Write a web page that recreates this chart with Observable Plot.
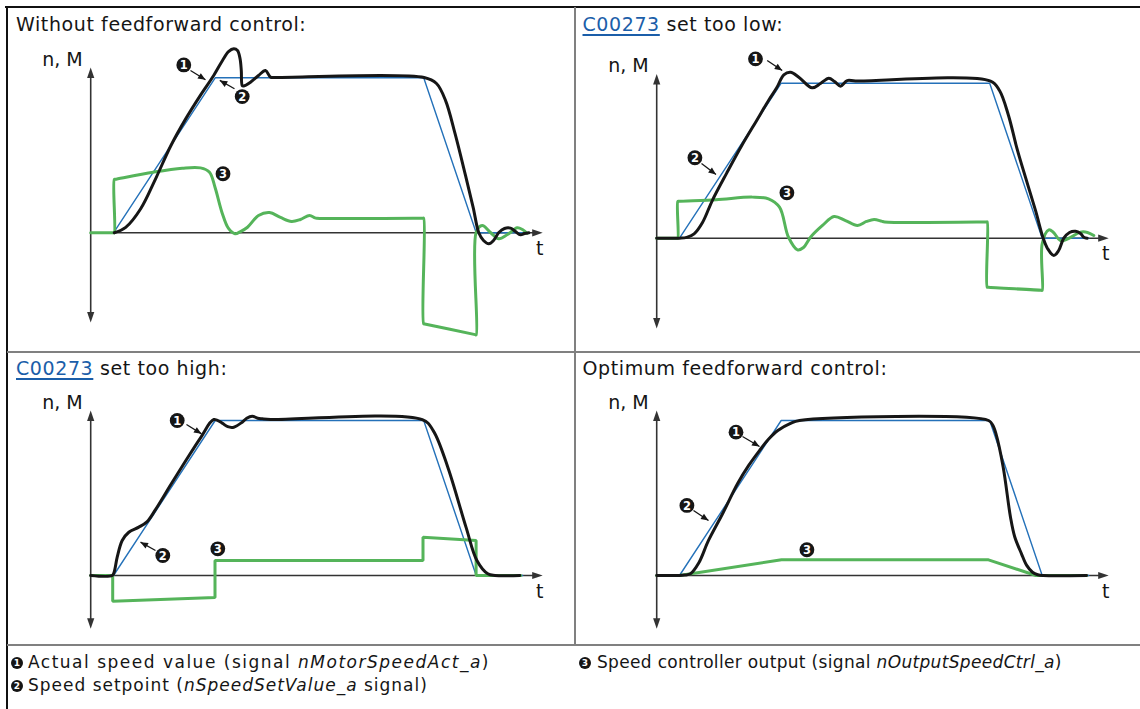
<!DOCTYPE html>
<html>
<head>
<meta charset="utf-8">
<script src="https://cdn.jsdelivr.net/npm/d3@7"></script>
<script src="https://cdn.jsdelivr.net/npm/@observablehq/plot@0.6"></script>
<style>
  html, body { margin: 0; padding: 0; background: #fff; }
  #page { position: relative; width: 1140px; height: 709px; overflow: hidden;
          font-family: "DejaVu Sans", sans-serif; color: #151515; }
  .rule { position: absolute; }
  .title { position: absolute; font-size: 19px; letter-spacing: 0.6px; line-height: 19px; white-space: nowrap; }
  .title a { color: #1b5ea9; text-decoration: underline; text-decoration-thickness: 1.6px; text-underline-offset: 3px; }
  .panel { position: absolute; }
  .panel svg { overflow: visible; }
  .legend { position: absolute; font-size: 17px; letter-spacing: 0px; line-height: 17px; white-space: nowrap; }
  .mk { position: absolute; width: 12px; height: 12px; border-radius: 50%; background: #151515; color: #fff;
        font: bold 9px/12px "DejaVu Sans", sans-serif; text-align: center; }
</style>
</head>
<body>
<div id="page"></div>
<script>
// ---------------- data (time in ms-like units, value in % of setpoint) ----------------
const titleLinks = ["", "C00273", "C00273", ""];
const titleTexts = ["Without feedforward control:", " set too low:", " set too high:", "Optimum feedforward control:"];
const axisLabelY = "n, M";
const axisLabelX = "t";

const setpoint = [[0,0],[22.8,0],[124.5,100],[333,100],[385.5,0],[432,0]];

const actual1 = [[23.6,0],[35,3.5],[50,15.5],[65,35],[80,56],[95,73.5],[110,89],[123,101.5],[131.8,111.2],
  [137.8,116.9],[143.1,118.7],[146.8,117.6],[149.3,112.5],[150.6,104.7],[151.5,95],[152.8,94.7],[159.8,97.2],
  [167.8,101.5],[174.8,104.7],[179.8,100.4],[184.8,100.2],[333.4,100.2],[345.8,96.3],[354.8,85.4],[364.3,64.1],
  [374.8,37],[382.5,16.3],[388.1,0],[392.8,-5],[398.1,-7.1],[402.8,-5],[408.1,0.2],[413.8,2.8],[419.8,3],
  [424.8,0.8],[429.8,-1.3],[433.8,-0.5],[438.1,0]];
const output1 = [[0,0],[22.8,0],[23.6,0],[23.6,34.4],[24.6,34.5],[62.5,39.1],[91.6,41.7],[109.8,41.9],[118.8,39.1],
  [124.3,29.4],[131.6,12.5],[137.8,2.8],[144.3,-0.6],[149.8,0.8],[156.8,3.6],[167.8,11.2],[178.8,13.1],[189.8,9.9],
  [200.8,7.3],[209.8,8.6],[218.8,11.2],[224.3,9.6],[226,9.4],[332.2,9.4],[333,9.4],[333,-58.7],[334,-58.8],
  [384.5,-65.7],[385.5,-65.8],[385.5,0.4],[391.5,4.7],[399.8,0.2],[408.1,-3.9],[416.8,-1.1],[426.5,3.2],
  [431.8,2.1],[436.5,-0.3]];

const actual2 = [[0,0],[22.8,0],[30,0.5],[37.4,2.8],[45.8,10.1],[55.6,24.3],[70,42],[84.8,59.5],[100,76],[112,89],
  [120,97],[127.1,105.4],[133.8,107.1],[142.1,103.9],[155.5,97],[163.8,99.8],[172.1,103.2],[177.8,101.1],[183.8,98.1],
  [190.5,101.7],[198.8,101.4],[333.8,101.4],[342.8,95.3],[351.8,79.2],[360.8,56.6],[378.8,17.9],[386.5,0],
  [390.8,-6.6],[397.1,-11.2],[401.8,-8.1],[407.1,0],[412.8,3.7],[418.8,4.5],[423.8,3],[427.1,0.6],[430.5,0]];
const output2 = [[0,0],[20.3,0],[21.1,0],[21.1,23.7],[22,23.8],[59.3,24.8],[95.6,26.5],[111.8,25.4],[122.8,20],
  [131.8,0.6],[140.8,-7.5],[146.8,-6],[153.8,0.6],[165.8,8.2],[177.4,14],[188.8,11.4],[200.8,8.2],[209.8,10.8],
  [217.4,12.1],[224.8,11],[228,10.5],[329.7,10.5],[330.5,10.5],[330.5,-31.6],[331.5,-31.7],[384.5,-33.6],
  [385.5,-33.7],[385.5,-3.6],[392.1,5.4],[396.8,3.7],[403.8,-1.5],[411.8,-0.2],[423.8,3.9],[430.8,3.7],[437.1,1.7]];

const actual3 = [[0,0],[21.5,0],[23.3,1.9],[26.5,11.8],[31.5,22.6],[38.1,27.9],[48.1,31.2],[56.5,34.8],[64.8,42.5],
  [80,58.5],[95,74],[110,89],[123.1,100.6],[131.5,98.3],[137,96],[143.1,95.7],[151.5,98.9],
  [156,101.5],[161.5,102.8],[167,101.5],[171.5,101.1],[179.8,100.6],[331.6,100.6],[342.5,93.5],[357.1,69.9],
  [375.3,31.2],[386.2,9.7],[397.1,1.1],[404.3,0],[429.1,0]];
const output3 = [[0,0],[22,0],[22,-16.6],[124.3,-14.2],[124.3,9.7],[332.3,9.7],[332.3,24.7],[385.4,22.6],[385.4,0],[430,0]];

const actual4 = [[0,0],[22.8,0],[28,0.3],[33.8,1.1],[42,8],[51.8,22.6],[66,40],[80.8,59.2],[92,71],[102.8,80.6],
  [112,88],[121.1,93.5],[133.8,98.1],[142.8,100],[331.8,100],[336,97],[339.3,91.4],[346.5,69.9],[353.8,37.6],
  [358,25],[364.8,14],[370,6.5],[375.8,2.1],[381,0.5],[386.5,0],[429.8,0]];
const output4 = [[0,0],[22.8,0],[124.8,10.1],[331.8,10.1],[379.3,0],[429.8,0]];

// callouts: [number, t, v, arrowFromT, arrowFromV, arrowToT, arrowToV]
const callouts1 = [["1",93.1,108.3,99.8,104.7,114.8,98.7],["2",151.5,87.9,143.8,92.9,129.1,98.3],["3",132.3,38.1]];
const callouts2 = [["1",98.8,115.7,110.5,114.6,125.5,108.2],["2",38.2,51.9,44.8,48.2,59.3,41.1],["3",130.2,29.3]];
const callouts3 = [["1",86.5,100,95.8,97.4,110.8,91.4],["2",72.1,12.9,64.8,16.1,49.8,21.5],["3",127.1,17.2]];
const callouts4 = [["1",79.3,92.5,85.8,89.7,102.8,83.2],["2",30.2,45.2,36.8,41.9,51.8,35.5],["3",150.2,16.6]];

const axisRangeV = [[-57.9,106.6],[-58.3,106],[-34.4,106.5],[-34.4,106.5]];
const axisEndT = 452;

const legendNums = ["1","3","2"];
const legendPre = ["Actual speed value (signal ", "Speed controller output (signal ", "Speed setpoint ("];
const legendItal = ["nMotorSpeedAct_a", "nOutputSpeedCtrl_a", "nSpeedSetValue_a"];
const legendPost = [")", ")", " signal)"];

// ---------------- layout ----------------
const page = document.getElementById("page");
const KV = 1.55; // px per % unit
const BLUE = "#2471b9", BLACK = "#161616", GREEN = "#55b45a", AXIS = "#333";

function rule(l, t, w, h, c) {
  const d = document.createElement("div");
  d.className = "rule";
  Object.assign(d.style, {left: l + "px", top: t + "px", width: w + "px", height: h + "px", background: c});
  page.appendChild(d);
}
rule(5, 5.5, 1135, 2.2, "#111");
rule(5.5, 5.5, 2.4, 704, "#111");
rule(573.5, 7, 2, 638, "#808080");
rule(7, 350.5, 1133, 2, "#808080");
rule(7, 644, 1133, 2, "#808080");

const panelsLayout = [
  {left: 0, top: 0, w: 570, h: 345, ox: 90.2, oy: 232.3, tx: 16, ty: 14.5},
  {left: 570, top: 0, w: 570, h: 345, ox: 86.2, oy: 237.7, tx: 12.5, ty: 14.5},
  {left: 0, top: 345, w: 570, h: 300, ox: 90.2, oy: 230, tx: 16, ty: 13.7},
  {left: 570, top: 345, w: 570, h: 300, ox: 86.2, oy: 230, tx: 12.5, ty: 13.7}
];
const actuals = [actual1, actual2, actual3, actual4];
const outputs = [output1, output2, output3, output4];
const callouts = [callouts1, callouts2, callouts3, callouts4];
const outputCurve = ["catmull-rom", "catmull-rom", "linear", "linear"];

const bigHead = {draw(ctx) { ctx.moveTo(0, 0); ctx.lineTo(-3.6, 10.5); ctx.lineTo(3.6, 10.5); ctx.closePath(); }};
const smallHead = {draw(ctx) { ctx.moveTo(0, 0); ctx.lineTo(-3.2, 7.5); ctx.lineTo(3.2, 7.5); ctx.closePath(); }};
const pts = a => a.map(([t, v]) => ({t, v}));

panelsLayout.forEach((L, i) => {
  const tdiv = document.createElement("div");
  tdiv.className = "title";
  tdiv.style.left = (L.left + L.tx) + "px";
  tdiv.style.top = (L.top + L.ty) + "px";
  if (titleLinks[i]) {
    const a = document.createElement("a");
    a.href = "#"; a.textContent = titleLinks[i];
    tdiv.appendChild(a);
  }
  tdiv.appendChild(document.createTextNode(titleTexts[i]));
  page.appendChild(tdiv);

  const [vmin, vmax] = axisRangeV[i];
  const tips = [
    {t: 0, v: vmax, rot: 0},
    {t: 0, v: vmin, rot: 180},
    {t: axisEndT, v: 0, rot: 90}
  ];
  const co = callouts[i];
  const arrows = co.filter(d => d.length > 3).map(d => {
    const dx = (d[5] - d[3]), dy = -(d[6] - d[4]) * KV;
    return {t1: d[3], v1: d[4], t2: d[5], v2: d[6], rot: Math.atan2(dx, -dy) * 180 / Math.PI};
  });
  const nums = co.map(d => ({n: d[0], t: d[1], v: d[2]}));

  const chart = Plot.plot({
    width: L.w, height: L.h, margin: 0,
    x: {domain: [0, 460], range: [L.ox, L.ox + 460], axis: null},
    y: {domain: [-80, 120], range: [L.oy + 80 * KV, L.oy - 120 * KV], axis: null},
    style: {background: "transparent", overflow: "visible", fontFamily: "DejaVu Sans"},
    marks: [
      Plot.link([{t1: 0, v1: vmin + 4, t2: 0, v2: vmax - 4}], {x1: "t1", y1: "v1", x2: "t2", y2: "v2", stroke: AXIS, strokeWidth: 1.6}),
      Plot.link([{t1: 0, v1: 0, t2: axisEndT - 5, v2: 0}], {x1: "t1", y1: "v1", x2: "t2", y2: "v2", stroke: AXIS, strokeWidth: 1.6}),
      Plot.dot(tips, {x: "t", y: "v", rotate: "rot", symbol: bigHead, fill: AXIS, stroke: null}),
      Plot.text([axisLabelY], {x: () => 0, y: () => vmax, dx: -8, dy: -8, textAnchor: "end", fontSize: 19, fill: "#151515", fontFamily: "DejaVu Sans"}),
      Plot.text([axisLabelX], {x: () => axisEndT, y: () => 0, dx: -3, dy: 16, fontSize: 19, fill: "#151515", fontFamily: "DejaVu Sans"}),
      Plot.line(pts(setpoint), {x: "t", y: "v", stroke: BLUE, strokeWidth: 1.4}),
      Plot.line(pts(outputs[i]), {x: "t", y: "v", stroke: GREEN, strokeWidth: 3, curve: outputCurve[i], strokeLinejoin: "miter"}),
      Plot.line(pts(actuals[i]), {x: "t", y: "v", stroke: BLACK, strokeWidth: 3, curve: "catmull-rom"}),
      Plot.link(arrows, {x1: "t1", y1: "v1", x2: "t2", y2: "v2", stroke: BLACK, strokeWidth: 1.3}),
      Plot.dot(arrows, {x: "t2", y: "v2", rotate: "rot", symbol: smallHead, fill: BLACK, stroke: null}),
      Plot.dot(nums, {x: "t", y: "v", r: 7.4, fill: BLACK, stroke: null}),
      Plot.text(nums, {x: "t", y: "v", text: "n", fill: "#fff", fontSize: 11.5, fontWeight: "bold", dy: 0.5, fontFamily: "DejaVu Sans"})
    ]
  });
  const holder = document.createElement("div");
  holder.className = "panel";
  Object.assign(holder.style, {left: L.left + "px", top: L.top + "px", width: L.w + "px", height: L.h + "px"});
  holder.appendChild(chart);
  page.appendChild(holder);
});

// legend (text widths fitted to the reference)
const legendPos = [{mx: 11, tx: 28, y: 654, w: 462}, {mx: 579, tx: 597, y: 654, w: 465}, {mx: 11, tx: 28, y: 677, w: 400}];
legendNums.forEach((n, i) => {
  const P = legendPos[i];
  const m = document.createElement("div");
  m.className = "mk"; m.textContent = n;
  m.style.left = P.mx + "px"; m.style.top = (P.y + 2.5) + "px";
  page.appendChild(m);
  const d = document.createElement("div");
  d.className = "legend";
  d.style.left = P.tx + "px"; d.style.top = P.y + "px";
  d.appendChild(document.createTextNode(legendPre[i]));
  const it = document.createElement("i"); it.textContent = legendItal[i];
  d.appendChild(it);
  d.appendChild(document.createTextNode(legendPost[i]));
  page.appendChild(d);
  const natural = d.getBoundingClientRect().width;
  const nChars = (legendPre[i] + legendItal[i] + legendPost[i]).length;
  d.style.letterSpacing = ((P.w - natural) / nChars).toFixed(2) + "px";
});
</script>
</body>
</html>
